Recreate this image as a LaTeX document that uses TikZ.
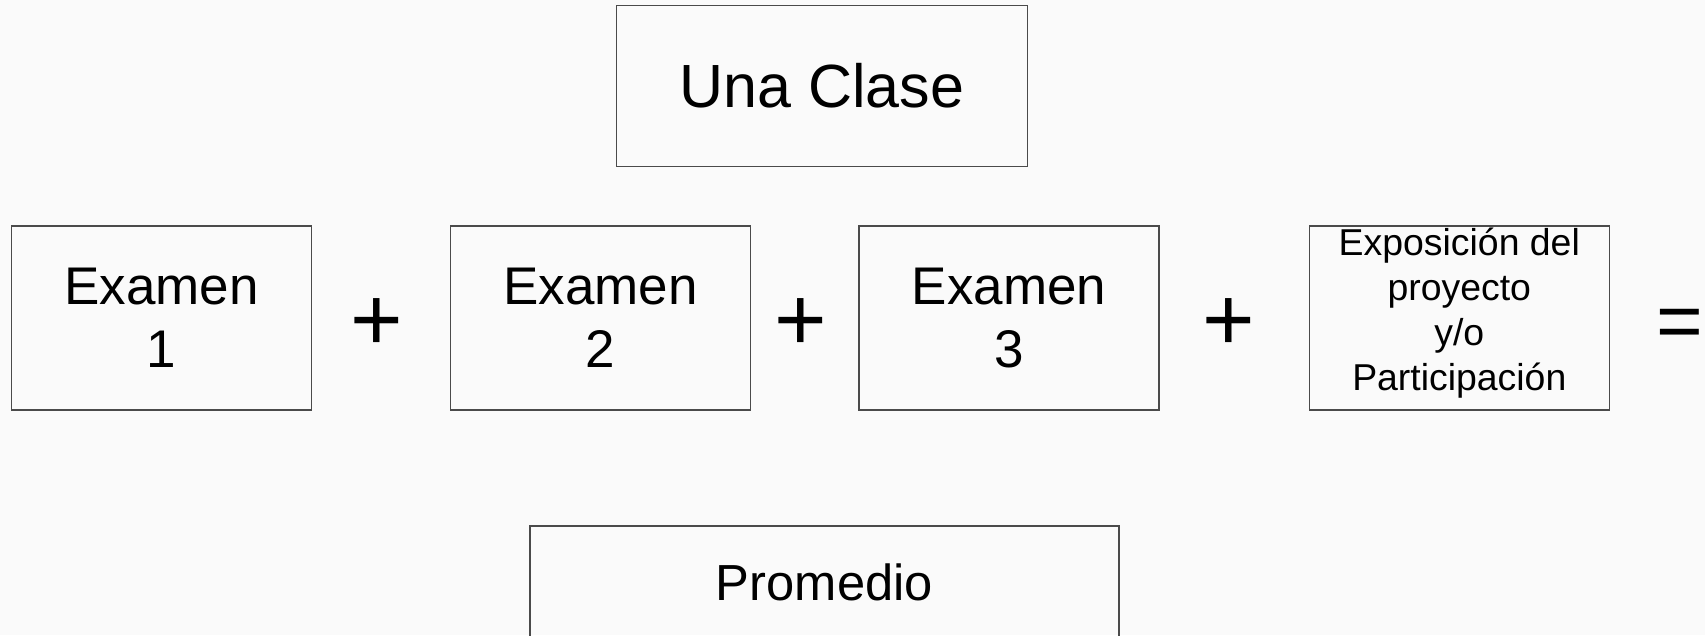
\documentclass[tikz,border=0pt]{standalone}
\usepackage{fontspec}
\setmainfont{Liberation Sans}
\usetikzlibrary{positioning}
\definecolor{bgcol}{HTML}{FAFAFA}
\definecolor{edgecol}{HTML}{4A4A4A}
\tikzstyle{block}=[rectangle, draw=edgecol, line width=1.3pt, inner sep=0pt, align=center]
\newcommand{\fsize}[2]{\fontsize{#1}{#2}\selectfont}

\begin{document}
\begin{tikzpicture}[x=1pt, y=-1pt]
        \tikzstyle{sign}=[inner sep=0pt, anchor=base]

        % Canvas
        \fill[bgcol] (0,0) rectangle (1705,635);
        \useasboundingbox (0,0) rectangle (1705,635);
        \clip (0,0) rectangle (1705,635);

        % Class
        \node at (822, 86) [block, minimum width=411, minimum height=161, font=\fsize{61}{70}] (clase) {Una Clase};

        % Exams
        \foreach \x/\cx in {1/161.7, 2/600.7, 3/1009}
          \node at (\cx, 318) [block, minimum width=300, minimum height=184, font=\fsize{53}{63}] (examen_\x) {Examen\\\x};

        % Project
        \node at (1459.3, 318) [block, minimum width=300, minimum height=184] (proyecto) {};
        \node at ([yshift=5pt]proyecto.center) [align=center, inner sep=0pt, font=\fsize{37.4}{44.8}] (proyecto_txt) {Exposición del\\proyecto\\y/o\\Participación};

        % Signs
        \foreach \i/\px in {1/376.7, 2/801, 3/1229}
          \node at (\px, 350) [sign, font=\fsize{90}{90}] (plus_\i) {+};
        \node at (1679.5, 348) [sign, font=\fsize{80}{80}] (igual) {=};

        % Result
        \node at (824.4, 582) [block, minimum width=589, minimum height=112, font=\fsize{50.7}{58}] (promedio) {Promedio};
\end{tikzpicture}
\end{document}
